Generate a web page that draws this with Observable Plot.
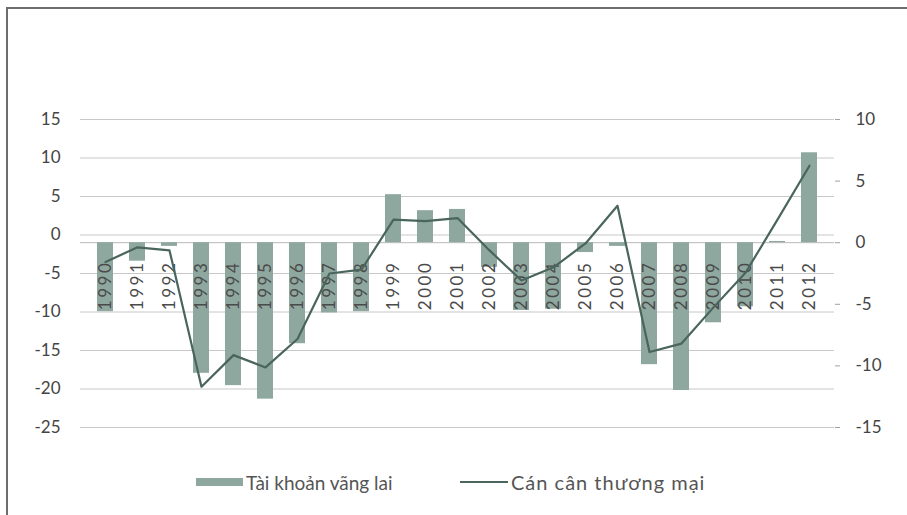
<!DOCTYPE html>
<html><head><meta charset="utf-8">
<script src="https://cdn.jsdelivr.net/npm/d3@7"></script>
<script src="https://cdn.jsdelivr.net/npm/@observablehq/plot@0.6"></script>
<style>
body{margin:0;background:#fff;font-family:Lato,sans-serif;}
#wrap{position:relative;width:907px;height:515px;overflow:hidden;background:#fff;}
#border{position:absolute;left:6px;top:7px;width:1000px;height:600px;border-left:2px solid #6d6d6d;border-top:2px solid #6d6d6d;}
#chart{position:absolute;left:0;top:0;}
#legend{position:absolute;left:0;top:467px;width:907px;height:30px;font-family:Lato,sans-serif;font-size:19px;color:#555;}
.item{position:absolute;top:0;height:30px;display:flex;align-items:center;white-space:nowrap;}
.sw-bar{display:inline-block;width:47px;height:8px;background:#8fa89f;margin-right:3px;}
.sw-line{display:inline-block;width:48px;height:2.5px;background:#4a655d;margin-right:3px;}
g[aria-label="text"] text{letter-spacing:2.5px;}
</style>
</head><body>
<div id="wrap">
  <div id="chart"></div>
  <div id="border"></div>
  <div id="legend">
    <div class="item" style="left:196px"><span class="sw-bar"></span><span>Tài khoản vãng lai</span></div>
    <div class="item" style="left:460px"><span class="sw-line"></span><span style="font-size:20px;letter-spacing:1px">Cán cân thương mại</span></div>
  </div>
</div>
<script>
const years = [1990,1991,1992,1993,1994,1995,1996,1997,1998,1999,2000,2001,2002,2003,2004,2005,2006,2007,2008,2009,2010,2011,2012];
// Tài khoản vãng lai (bars, right axis)
const currentAccount = [-5.6,-1.5,-0.3,-10.6,-11.6,-12.7,-8.2,-5.7,-5.6,3.9,2.6,2.7,-2.0,-5.5,-5.4,-0.8,-0.3,-9.9,-12.0,-6.5,-5.2,0.1,7.3];
// Cán cân thương mại (line, left axis)
const tradeBalance = [-3.5,-1.6,-2.0,-19.7,-15.6,-17.2,-13.5,-5.0,-4.5,2.0,1.8,2.2,-2.0,-5.9,-4.2,-1.1,3.8,-15.2,-14.1,-9.4,-4.9,2.0,9.0];
const leftTicks = [-25,-20,-15,-10,-5,0,5,10,15];
const rightTicks = [-15,-10,-5,0,5,10];
const leftDomain = [-25,15];
const rightDomain = [-15,10];
const toLeft = v => leftDomain[0] + (v - rightDomain[0]) * (leftDomain[1]-leftDomain[0]) / (rightDomain[1]-rightDomain[0]);
const toRight = v => rightDomain[0] + (v - leftDomain[0]) * (rightDomain[1]-rightDomain[0]) / (leftDomain[1]-leftDomain[0]);
const data = years.map((y,i) => ({year: String(y), ca: currentAccount[i], tb: tradeBalance[i]}));

const chart = Plot.plot({
  width: 907, height: 455,
  marginTop: 119, marginBottom: 28, marginLeft: 80, marginRight: 73,
  style: {fontFamily: "Lato, sans-serif", fontSize: "17px", color: "#444", background: "transparent", overflow: "visible"},
  x: {type: "band", domain: years.map(String), padding: 0.5, axis: null},
  y: {domain: leftDomain, axis: null},
  marks: [
    Plot.gridY(leftTicks, {stroke: "#c8c8c8", strokeOpacity: 1, strokeWidth: 1}),
    Plot.axisY(leftTicks, {anchor: "left", tickSize: 0, tickPadding: 20, tickFormat: d => String(d), label: null, fill: "#444"}),
    Plot.axisY(rightTicks.map(toLeft), {anchor: "right", tickSize: 5, tickPadding: 16, tickFormat: d => String(Math.round(toRight(d))), label: null, line: true, stroke: "#a0a0a0", fill: "#444"}),
    Plot.ruleY([toLeft(0)], {stroke: "#b8b8b8"}),
    Plot.barY(data, {x: "year", y1: () => toLeft(0), y2: d => toLeft(d.ca), fill: "#8fa89f"}),
    Plot.text(data, {x: "year", y: () => toLeft(0), text: "year", rotate: -90, textAnchor: "end", dy: 18, fill: "#4a4a4a", fontSize: 17}),
    Plot.line(data, {x: "year", y: "tb", stroke: "#4a655d", strokeWidth: 2.2})
  ]
});
document.getElementById("chart").appendChild(chart);
</script>
</body></html>
